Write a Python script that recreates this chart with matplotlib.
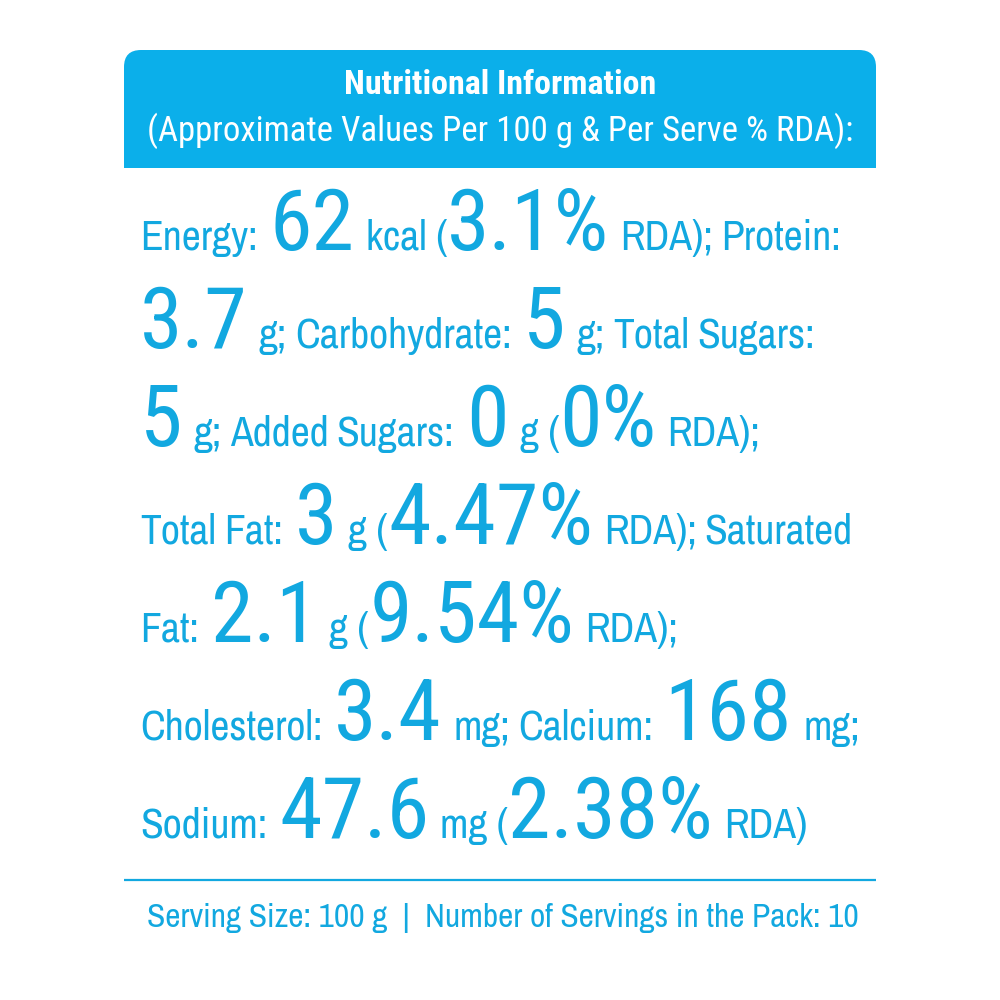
import matplotlib
matplotlib.use("Agg")
import matplotlib.pyplot as plt
from matplotlib.patches import FancyBboxPatch, Rectangle

# label contents
nutrients = ["Energy", "Protein", "Carbohydrate", "Total Sugars", "Added Sugars",
             "Total Fat", "Saturated Fat", "Cholesterol", "Calcium", "Sodium"]
amounts = ["62", "3.7", "5", "5", "0", "3", "2.1", "3.4", "168", "47.6"]
units = ["kcal", "g", "g", "g", "g", "g", "g", "mg", "mg", "mg"]
rda = ["3.1%", None, None, None, "0%", "4.47%", "9.54%", None, None, "2.38%"]

title = "Nutritional Information"
subtitle = "(Approximate Values Per 100 g & Per Serve % RDA):"
serving_size = "100 g"
servings_in_pack = "10"

BLUE = "#0BAFEA"
TEXT = "#12A8E0"
FONT = ["Roboto Condensed", "DejaVu Sans"]
NARROW = ["Archivo Narrow", "Roboto Condensed", "DejaVu Sans"]

fig = plt.figure(figsize=(10, 10), dpi=100)
ax = fig.add_axes([0, 0, 1, 1])
ax.set_xlim(0, 1000)
ax.set_ylim(1000, 0)
ax.axis("off")
renderer = fig.canvas.get_renderer()

# header box, rounded on top only
ax.add_patch(FancyBboxPatch((124, 50), 752, 118, boxstyle="round,pad=0,rounding_size=17",
                            fc=BLUE, ec="none"))
ax.add_patch(Rectangle((124, 100), 752, 68, fc=BLUE, ec="none"))
ax.text(500, 94, title, ha="center", va="baseline", color="white",
        fontsize=24.5, fontweight="bold", family=FONT)
ax.text(500, 141, subtitle, ha="center", va="baseline", color="white",
        fontsize=25, family=FONT)

# build the word stream: (text, big?, tight?)
tokens = []
for i, name in enumerate(nutrients):
    for w in (name + ":").split():
        tokens.append((w, False, False))
    tokens.append((amounts[i], True, False))
    end = "" if i == len(nutrients) - 1 else ";"
    if rda[i] is None:
        tokens.append((units[i] + end, False, False))
    else:
        tokens.append((units[i] + " (", False, False))
        tokens.append((rda[i], True, True))
        tokens.append(("RDA)" + end, False, False))

# where the reference wraps its lines
line_starts = [0, 6, 13, 21, 28, 33, 39, len(tokens)]

SMALL, BIG = 30, 62
for ln in range(len(line_starts) - 1):
    y = 250 + 98 * ln
    x = 140
    prev_big = None
    for text, big, tight in tokens[line_starts[ln]:line_starts[ln + 1]]:
        if prev_big is not None:
            if tight:
                x += 0
            elif big and not prev_big:
                x += 12
            elif prev_big and not big:
                x += 11
            else:
                x += 8
        t = ax.text(x, y, text, ha="left", va="baseline", color=TEXT,
                    fontsize=BIG if big else SMALL, family=FONT if big else NARROW)
        x += t.get_window_extent(renderer).width
        prev_big = big

# footer
ax.plot([124, 876], [880, 880], color=TEXT, lw=1.6, solid_capstyle="butt")
ax.text(503, 927, f"Serving Size: {serving_size}  |  Number of Servings in the Pack: {servings_in_pack}",
        ha="center", va="baseline", color=TEXT, fontsize=24, family=NARROW)

fig.savefig("out.png", dpi=100, facecolor="white")
